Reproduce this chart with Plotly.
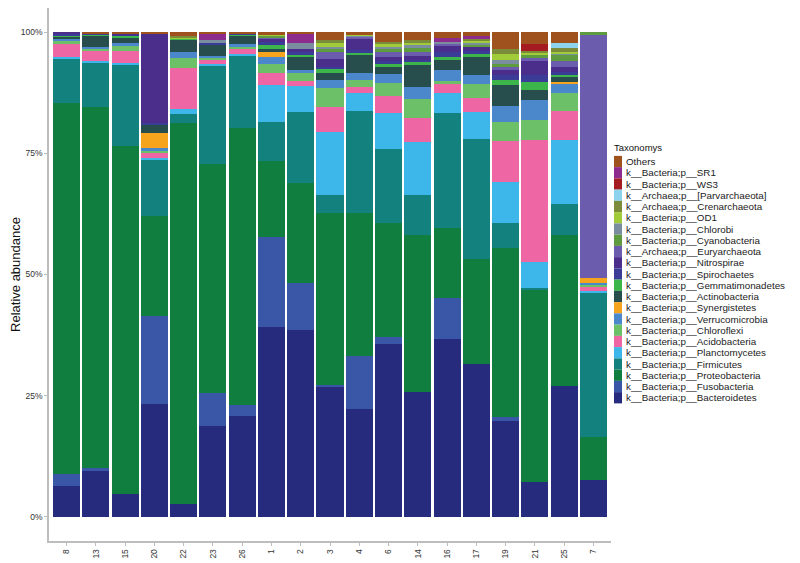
import plotly.graph_objects as go

samples = ["8", "13", "15", "20", "22", "23", "26", "1", "2", "3", "4", "6", "14", "16", "17", "19", "21", "25", "7"]

# stacking order: bottom -> top
taxa = [
    "k__Bacteria;p__Bacteroidetes",
    "k__Bacteria;p__Fusobacteria",
    "k__Bacteria;p__Proteobacteria",
    "k__Bacteria;p__Firmicutes",
    "k__Bacteria;p__Planctomycetes",
    "k__Bacteria;p__Acidobacteria",
    "k__Bacteria;p__Chloroflexi",
    "k__Bacteria;p__Verrucomicrobia",
    "k__Bacteria;p__Synergistetes",
    "k__Bacteria;p__Actinobacteria",
    "k__Bacteria;p__Gemmatimonadetes",
    "k__Bacteria;p__Spirochaetes",
    "k__Bacteria;p__Nitrospirae",
    "k__Archaea;p__Euryarchaeota",
    "k__Bacteria;p__Cyanobacteria",
    "k__Bacteria;p__Chlorobi",
    "k__Bacteria;p__OD1",
    "k__Archaea;p__Crenarchaeota",
    "k__Archaea;p__[Parvarchaeota]",
    "k__Bacteria;p__WS3",
    "k__Bacteria;p__SR1",
    "Others",
]

colors = [
    "#262B7E", "#3A56A6", "#0F7E3F", "#13817E", "#3DB7EA", "#EE67A4",
    "#6CC068", "#4A87CB", "#F6A31E", "#274D4C", "#3CB64A", "#3B3C97",
    "#4B2D8B", "#6C5CAE", "#5F9B3F", "#7B8EA0", "#A1CC3A", "#7C8B39",
    "#8DD3EE", "#A51B22", "#8E2C8E", "#A0521E",
]

bacteroidetes   = [6.4, 9.5, 4.7, 23.3, 2.7, 18.8, 20.8, 39.2, 38.6, 26.9, 22.2, 35.7, 25.8, 36.6, 31.5, 19.7, 7.1, 26.9, 7.5]
fusobacteria    = [2.5, 0.5, 0.0, 18.2, 0.0, 6.7, 2.2, 18.5, 9.7, 0.2, 10.9, 1.3, 0.0, 8.5, 0.0, 0.9, 0.0, 0.0, 0.0]
proteobacteria  = [76.5, 74.6, 71.8, 20.6, 78.5, 47.3, 57.3, 15.8, 20.5, 35.6, 29.6, 23.7, 32.3, 14.6, 21.6, 34.8, 39.8, 31.2, 8.9]
firmicutes      = [9.0, 9.1, 16.7, 11.5, 1.9, 20.4, 14.7, 8.0, 14.8, 3.7, 21.1, 15.1, 8.3, 23.7, 24.8, 5.2, 0.3, 6.4, 29.9]
planctomycetes  = [0.5, 0.4, 0.5, 0.5, 1.0, 0.3, 0.5, 7.6, 5.3, 13.0, 3.6, 7.6, 11.0, 4.0, 5.7, 8.5, 5.4, 13.2, 0.3]
acidobacteria   = [2.7, 2.2, 2.4, 0.9, 8.6, 0.9, 1.1, 2.4, 1.0, 5.1, 1.3, 3.4, 4.8, 2.0, 2.9, 8.5, 25.1, 6.1, 1.0]
chloroflexi     = [0.6, 0.3, 1.0, 0.5, 1.9, 0.3, 0.4, 2.0, 1.6, 3.9, 1.4, 2.7, 4.1, 0.5, 2.9, 3.9, 4.2, 3.7, 0.4]
verrucomicrobia = [0.5, 0.4, 0.7, 0.6, 1.3, 0.3, 0.5, 1.4, 0.7, 1.7, 1.4, 1.8, 2.4, 2.3, 1.7, 3.2, 4.2, 2.0, 0.3]
synergistetes   = [0.0, 0.0, 0.0, 3.1, 0.0, 0.0, 0.0, 1.0, 0.0, 0.0, 0.0, 0.0, 0.0, 0.0, 0.0, 0.0, 0.0, 0.3, 0.9]
actinobacteria  = [0.5, 2.4, 1.2, 1.8, 2.5, 2.4, 1.9, 0.7, 2.6, 1.4, 3.8, 1.5, 4.5, 2.0, 3.7, 4.4, 1.9, 1.0, 0.0]
gemmatimonadetes = [0.2, 0.2, 0.3, 0.0, 0.4, 0.0, 0.2, 0.7, 0.5, 1.0, 0.4, 0.7, 0.7, 0.6, 0.7, 1.1, 1.7, 0.5, 0.0]
spirochaetes    = [0.4, 0.2, 0.3, 0.3, 0.0, 0.3, 0.2, 0.7, 0.6, 0.4, 0.6, 0.5, 0.4, 1.2, 0.7, 1.0, 1.4, 0.4, 0.0]
nitrospirae     = [0.2, 0.0, 0.2, 18.4, 0.0, 0.0, 0.0, 0.7, 0.7, 1.5, 2.4, 0.9, 0.8, 1.3, 0.8, 1.0, 3.0, 1.2, 0.0]
euryarchaeota   = [0.0, 0.0, 0.0, 0.0, 0.0, 0.0, 0.0, 0.3, 0.0, 1.5, 0.4, 1.0, 0.8, 0.4, 0.0, 0.7, 0.6, 1.2, 50.2]
cyanobacteria   = [0.0, 0.0, 0.0, 0.0, 0.0, 0.0, 0.0, 0.3, 0.0, 0.6, 0.0, 0.6, 0.8, 0.0, 0.5, 0.6, 0.6, 1.2, 0.6]
chlorobi        = [0.0, 0.0, 0.0, 0.0, 0.0, 0.6, 0.0, 0.0, 1.1, 0.5, 0.3, 0.5, 0.6, 0.3, 0.4, 0.7, 0.0, 0.3, 0.0]
od1             = [0.0, 0.0, 0.0, 0.0, 0.2, 0.0, 0.0, 0.3, 0.0, 0.7, 0.2, 0.5, 0.5, 0.0, 0.4, 1.4, 0.5, 0.4, 0.0]
crenarchaeota   = [0.0, 0.0, 0.0, 0.0, 0.3, 0.0, 0.0, 0.0, 0.0, 0.7, 0.0, 0.5, 0.5, 0.0, 0.4, 1.0, 0.3, 0.7, 0.0]
parvarchaeota   = [0.0, 0.0, 0.0, 0.0, 0.0, 0.0, 0.0, 0.0, 0.0, 0.0, 0.0, 0.0, 0.0, 0.0, 0.0, 0.0, 0.0, 1.0, 0.0]
ws3             = [0.0, 0.0, 0.0, 0.0, 0.0, 0.0, 0.0, 0.0, 0.0, 0.0, 0.0, 0.0, 0.0, 0.0, 0.0, 0.0, 1.4, 0.0, 0.0]
sr1             = [0.0, 0.0, 0.0, 0.0, 0.0, 1.5, 0.0, 0.0, 2.0, 0.0, 0.0, 0.0, 0.0, 0.9, 0.6, 0.0, 0.0, 0.0, 0.0]
others          = [0.0, 0.2, 0.2, 0.3, 0.7, 0.2, 0.2, 0.4, 0.3, 1.6, 0.4, 2.0, 1.7, 1.1, 0.7, 3.4, 2.5, 2.3, 0.0]

series = [bacteroidetes, fusobacteria, proteobacteria, firmicutes, planctomycetes,
          acidobacteria, chloroflexi, verrucomicrobia, synergistetes, actinobacteria,
          gemmatimonadetes, spirochaetes, nitrospirae, euryarchaeota, cyanobacteria,
          chlorobi, od1, crenarchaeota, parvarchaeota, ws3, sr1, others]

y_ticks = [0, 25, 50, 75, 100]
y_ticklabels = ["0%", "25%", "50%", "75%", "100%"]

# the page body adds an 8px offset, so the figure is sized to fit inside the window
W, H = 792, 555
ML, MR, MT, MB = 41, 189, 0, 22
PW, PH = W - ML - MR, H - MT - MB

fig = go.Figure()
for name, vals, col in zip(taxa, series, colors):
    fig.add_trace(go.Bar(x=samples, y=vals, name=name, marker_color=col,
                         marker_line_width=0, showlegend=False))

axis_col = "#BDBDBD"
fig.update_layout(
    width=W, height=H,
    barmode="stack", barnorm="percent", bargap=0.075,
    plot_bgcolor="white", paper_bgcolor="white",
    margin=dict(l=ML, r=MR, t=MT, b=MB, autoexpand=False),
    font=dict(family="Liberation Sans, Arial, sans-serif", color="#333333"),
    xaxis=dict(type="category", range=[-0.6, len(samples) - 0.4], showgrid=False,
               showline=True, linecolor=axis_col, linewidth=1.5,
               ticks="outside", ticklen=3, tickcolor=axis_col,
               tickangle=-90, tickfont=dict(size=8.5, color="#333333"),
               automargin=False),
    yaxis=dict(range=[-5, 105], showgrid=False, zeroline=False,
               showline=True, linecolor=axis_col, linewidth=1.5,
               ticks="outside", ticklen=3, tickcolor=axis_col,
               tickvals=y_ticks, ticktext=y_ticklabels,
               tickfont=dict(size=8.5, color="#333333"),
               title=dict(text="Relative abundance", font=dict(size=13, color="#111111"), standoff=3),
               automargin=False),
)

# ggplot-style compact legend (built from the taxa / colour lists); positions in figure pixels
def px2x(p):
    return (p - ML) / PW

def py2y(p):
    return (H - MB - p) / PH

step = 11.25
top_center = 153.5
sw_x0, sw_x1, text_x = 606, 614, 616
fig.add_annotation(x=px2x(604), y=py2y(140), xref="paper", yref="paper",
                   text="Taxonomys", showarrow=False, xanchor="left", yanchor="middle",
                   font=dict(size=9.5, color="#111111"))
legend_order = list(zip(taxa, colors))[::-1]
for i, (name, col) in enumerate(legend_order):
    cy = top_center + i * step
    fig.add_shape(type="rect", xref="paper", yref="paper",
                  x0=px2x(sw_x0), x1=px2x(sw_x1),
                  y0=py2y(cy - step / 2), y1=py2y(cy + step / 2),
                  fillcolor=col, line_width=0)
    fig.add_annotation(x=px2x(text_x), y=py2y(cy), xref="paper", yref="paper",
                       text=name, showarrow=False, xanchor="left", yanchor="middle",
                       font=dict(size=9.8, color="#222222"))

fig.write_html("out.html")
